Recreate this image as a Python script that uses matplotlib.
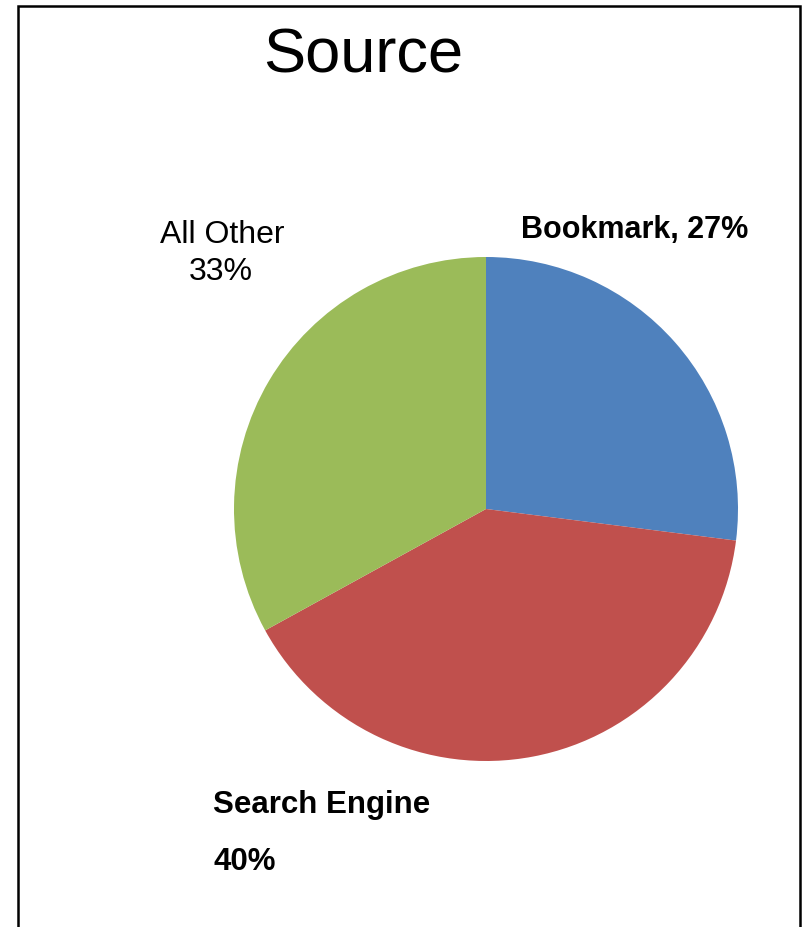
import matplotlib
matplotlib.use("Agg")
import matplotlib.pyplot as plt
from matplotlib.patches import Rectangle

# data
sources = ["Bookmark", "Search Engine", "All Other"]
shares = [27, 40, 33]
colors = ["#4F81BD", "#C0504D", "#9BBB59"]

W, H = 806, 928
fig = plt.figure(figsize=(W / 100, H / 100), dpi=100)
plt.rcParams["font.family"] = ["Liberation Sans", "DejaVu Sans"]

# outer frame
fig.patches.append(Rectangle((18 / W, -0.05), (800 - 18) / W, 1.05 - 7 / H,
                             transform=fig.transFigure, fill=False,
                             edgecolor="black", linewidth=1.8))

# pie axes: centre (486, 510) px, radius 252 px
cx, cy, r = 486, 510, 252
ax = fig.add_axes([(cx - r) / W, (H - cy - r) / H, 2 * r / W, 2 * r / H])
ax.pie(shares, colors=colors, startangle=90, counterclock=False,
       radius=1, wedgeprops=dict(linewidth=0))
ax.set_xlim(-1, 1)
ax.set_ylim(-1, 1)
ax.set_aspect("equal")
ax.axis("off")

def px(x, y):
    return (x / W, 1 - y / H)

fig.text(*px(363, 56), "Source", fontsize=45.5, ha="center", va="center")

fig.text(*px(635, 230), f"{sources[0]}, {shares[0]}%", fontsize=22,
         fontweight="bold", ha="center", va="center")
fig.text(*px(222, 235), sources[2], fontsize=23, ha="center", va="center")
fig.text(*px(221, 272), f"{shares[2]}%", fontsize=23, ha="center", va="center")
fig.text(*px(213, 805), sources[1], fontsize=22.5, fontweight="bold",
         ha="left", va="center")
fig.text(*px(213, 862), f"{shares[1]}%", fontsize=22.5, fontweight="bold",
         ha="left", va="center")

fig.savefig("out.png", dpi=100)
